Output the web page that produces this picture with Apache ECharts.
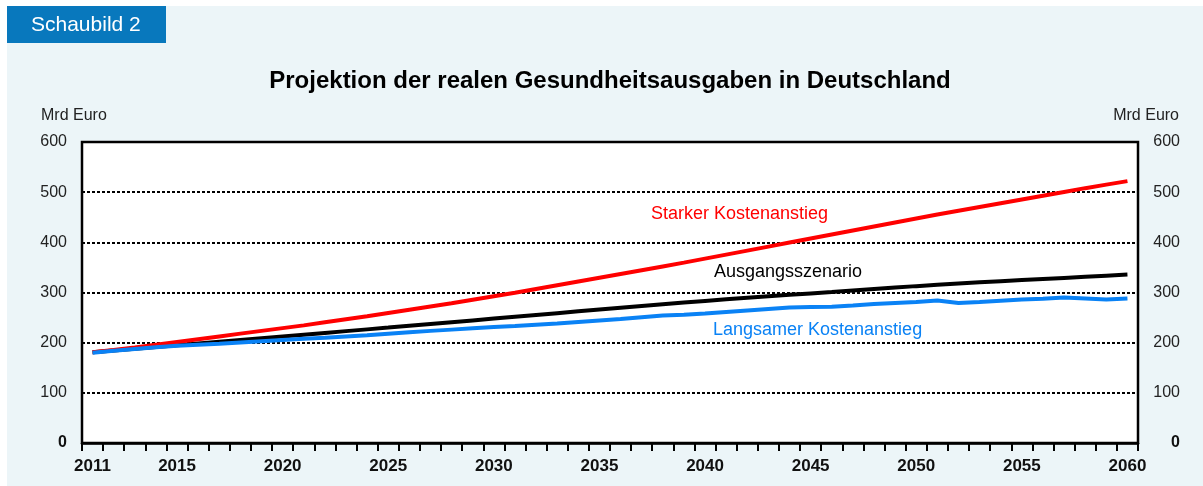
<!DOCTYPE html>
<html>
<head>
<meta charset="utf-8">
<script src="https://cdn.jsdelivr.net/npm/echarts@6/dist/echarts.min.js"></script>
<style>
  html, body { margin: 0; padding: 0; background: #fff; }
  #chart { width: 1203px; height: 486px; }
</style>
</head>
<body>
<div id="chart"></div>
<script>
const years = [
  '2011', '2012', '2013', '2014', '2015', '2016', '2017', '2018', '2019', '2020',
  '2021', '2022', '2023', '2024', '2025', '2026', '2027', '2028', '2029', '2030',
  '2031', '2032', '2033', '2034', '2035', '2036', '2037', '2038', '2039', '2040',
  '2041', '2042', '2043', '2044', '2045', '2046', '2047', '2048', '2049', '2050',
  '2051', '2052', '2053', '2054', '2055', '2056', '2057', '2058', '2059', '2060'
];

// Ausgangsszenario
const baseline = [
  181, 184.5, 188, 191.5, 195, 198.5, 202, 205.5, 209, 212.5,
  216, 219.5, 223, 226.5, 230, 233.6, 237.2, 240.8, 244.4, 248,
  251.6, 255.2, 258.8, 262.4, 266, 269.5, 273, 276.5, 280, 283.2,
  286.4, 289.5, 292.5, 295.4, 298.2, 301, 304, 307, 310, 312.7,
  315.3, 317.8, 320.2, 322.5, 324.7, 326.9, 329.1, 331.3, 333.5, 335.7
];

// Starker Kostenanstieg
const strong = [
  181, 185.5, 190.5, 196, 201.5, 207, 212.5, 218, 223.5, 229,
  234.5, 240.5, 246.5, 252.5, 259, 265.5, 272, 278.5, 285.5, 292.5,
  299.5, 307, 314.5, 322, 329.5, 337, 344.5, 352, 359.5, 367.5,
  375.5, 383.5, 391.5, 399.5, 407.5, 415.5, 423.5, 431.5, 439.5, 447.5,
  455.5, 463, 470.5, 478, 485.5, 493, 500.5, 508, 515, 522
];

// Langsamer Kostenanstieg
const slow = [
  180, 184, 187.5, 191, 194, 196, 198, 200.5, 203, 205.5,
  208, 210, 212.5, 215, 218, 221, 223.5, 226, 228.5, 231,
  233, 235.5, 238, 241, 244, 247, 250.5, 254, 255.5, 258,
  261, 264, 267, 270, 271, 271.5, 274, 277, 279, 281,
  284, 279, 281, 283.5, 286, 287.5, 290, 288, 286, 288
];

const yTicks = [0, 100, 200, 300, 400, 500, 600];

const font = '"Liberation Sans", Arial, sans-serif';

const chart = echarts.init(document.getElementById('chart'));

function yLabel(v) {
  return v === 0 ? '{b|0}' : String(v);
}

const yLabelStyle = {
  fontFamily: font,
  fontSize: 16,
  color: '#222',
  formatter: yLabel,
  rich: { b: { fontFamily: font, fontSize: 16, fontWeight: 'bold', color: '#111' } }
};

const option = {
  animation: false,
  backgroundColor: '#fff',
  graphic: [
    { type: 'rect', z: -10, shape: { x: 7, y: 6, width: 1196, height: 480 }, style: { fill: '#ecf5f8' } },
    { type: 'rect', z: -5, shape: { x: 7, y: 6, width: 159, height: 37 }, style: { fill: '#0878bd' } },
    { type: 'text', x: 31, y: 25, style: { text: 'Schaubild 2', fill: '#fff', font: '21px ' + font, textVerticalAlign: 'middle' } },
    { type: 'text', x: 610, y: 81, style: { text: 'Projektion der realen Gesundheitsausgaben in Deutschland', fill: '#000', font: 'bold 24px ' + font, textAlign: 'center', textVerticalAlign: 'middle' } },
    { type: 'text', x: 41, y: 116, style: { text: 'Mrd Euro', fill: '#222', font: '16px ' + font, textVerticalAlign: 'middle' } },
    { type: 'text', x: 1179, y: 116, style: { text: 'Mrd Euro', fill: '#222', font: '16px ' + font, textAlign: 'right', textVerticalAlign: 'middle' } },
    // line labels
    { type: 'text', x: 651, y: 214, z: 10, style: { text: 'Starker Kostenanstieg', fill: '#ff0000', font: '18px ' + font, textVerticalAlign: 'middle' } },
    { type: 'text', x: 714, y: 272, z: 10, style: { text: 'Ausgangsszenario', fill: '#000', font: '18px ' + font, textVerticalAlign: 'middle' } },
    { type: 'text', x: 713, y: 330, z: 10, style: { text: 'Langsamer Kostenanstieg', fill: '#0a82f5', font: '18px ' + font, textVerticalAlign: 'middle' } }
  ],
  grid: {
    left: 82,
    right: 65,
    top: 142,
    bottom: 43,
    show: true,
    backgroundColor: '#fff',
    borderColor: '#000',
    borderWidth: 2.5
  },
  xAxis: {
    type: 'category',
    data: years,
    boundaryGap: true,
    axisLine: { show: true, lineStyle: { color: '#000', width: 2.5 } },
    axisTick: { show: true, interval: 0, length: 8, lineStyle: { color: '#000', width: 2 } },
    axisLabel: {
      interval: (index, value) => index === 0 || Number(value) % 5 === 0,
      fontFamily: font,
      fontSize: 17,
      fontWeight: 'bold',
      color: '#111',
      margin: 15
    },
    splitLine: { show: false }
  },
  yAxis: [
    {
      type: 'value',
      position: 'left',
      min: yTicks[0],
      max: yTicks[yTicks.length - 1],
      interval: 100,
      axisLine: { show: false },
      axisTick: { show: false },
      axisLabel: Object.assign({ margin: 15 }, yLabelStyle),
      splitLine: { show: true, lineStyle: { color: '#000', width: 2, type: [3, 2] } }
    },
    {
      type: 'value',
      position: 'right',
      min: yTicks[0],
      max: yTicks[yTicks.length - 1],
      interval: 100,
      axisLine: { show: false },
      axisTick: { show: false },
      axisLabel: Object.assign({ margin: 42, align: 'right' }, yLabelStyle),
      splitLine: { show: false }
    }
  ],
  series: [
    {
      name: 'Ausgangsszenario',
      type: 'line',
      data: baseline,
      symbol: 'none',
      lineStyle: { color: '#000', width: 4 }
    },
    {
      name: 'Starker Kostenanstieg',
      type: 'line',
      data: strong,
      symbol: 'none',
      lineStyle: { color: '#ff0000', width: 4 }
    },
    {
      name: 'Langsamer Kostenanstieg',
      type: 'line',
      data: slow,
      symbol: 'none',
      lineStyle: { color: '#0a82f5', width: 4 }
    }
  ]
};

chart.setOption(option);
</script>
</body>
</html>
